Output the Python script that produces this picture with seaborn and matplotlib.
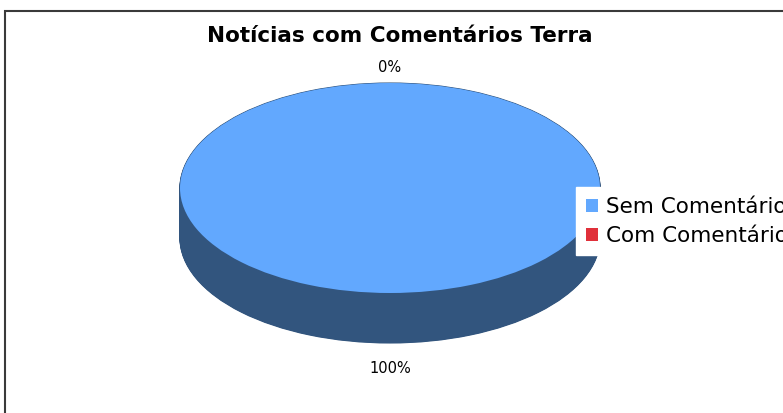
import numpy as np
import matplotlib
matplotlib.use("Agg")
import matplotlib.pyplot as plt
from matplotlib.patches import Patch, Rectangle
import seaborn as sns

titulo = "Notícias com Comentários Terra"
categorias = ["Sem Comentários", "Com Comentários"]
valores = [100, 0]
cores_topo = ["#62A8FE", "#E0303A"]
cores_lado = ["#32557E", "#7A1C22"]

sns.set_theme(style="white")
plt.rcParams["font.family"] = ["DejaVu Sans"]
plt.rcParams["text.color"] = "black"

W, H = 783, 413
fig = plt.figure(figsize=(W / 100, H / 100), dpi=100)

# area da pizza em pixels: elipse do topo x 180..600, y 83..293, altura lateral 50
rx_px, ry_px, prof_px = 210, 105, 50
left, top = 180, 83
prof = prof_px / ry_px
ax = fig.add_axes([left / W, 1 - (top + 2 * ry_px + prof_px) / H,
                   2 * rx_px / W, (2 * ry_px + prof_px) / H])

# lateral do cilindro: varias pizzas escuras empilhadas
for dy in np.linspace(prof, 0, 80):
    ax.pie(valores, colors=cores_lado, startangle=90, counterclock=False,
           center=(0, -dy), radius=1, wedgeprops=dict(linewidth=0.8, edgecolor=cores_lado[0]))
ax.pie(valores, colors=cores_topo, startangle=90, counterclock=False,
       center=(0, 0), radius=1, wedgeprops=dict(linewidth=0))

ax.set_aspect("auto")
ax.set_xlim(-1, 1)
ax.set_ylim(-1 - prof, 1)
ax.axis("off")

# rotulos de porcentagem no meio de cada fatia
total = sum(valores)
ang = 90.0
for v in valores:
    frac = v / total
    meio = np.deg2rad(ang - frac * 180)
    ang -= frac * 360
    x, y = np.cos(meio), np.sin(meio)
    if y < 0:
        y = y - prof - 0.24
    else:
        y = y + 0.15
    ax.text(x, y, f"{v / total * 100:.0f}%", ha="center", va="center",
            fontsize=10.5, color="black", clip_on=False)

fig.text(400 / W, 1 - 36 / H, titulo, ha="center", va="center",
         fontsize=15.5, fontweight="bold", color="black")

handles = [Patch(facecolor=c, edgecolor="none") for c in cores_topo]
leg = fig.legend(handles, categorias, loc="upper left",
                 bbox_to_anchor=(576 / W, 1 - 187 / H), frameon=True,
                 fancybox=False, framealpha=1, edgecolor="white",
                 fontsize=15.5, handlelength=0.55, handleheight=0.55,
                 handletextpad=0.4, borderpad=0.45, labelspacing=0.42,
                 borderaxespad=0)
for t in leg.get_texts():
    t.set_color("black")

fig.add_artist(Rectangle((4.5 / W, -0.1), 1.2, 1 - 11.5 / H + 0.1,
                         transform=fig.transFigure, fill=False,
                         edgecolor="#3a3a3a", linewidth=1.5))

fig.savefig("out.png", dpi=100, facecolor="white")
